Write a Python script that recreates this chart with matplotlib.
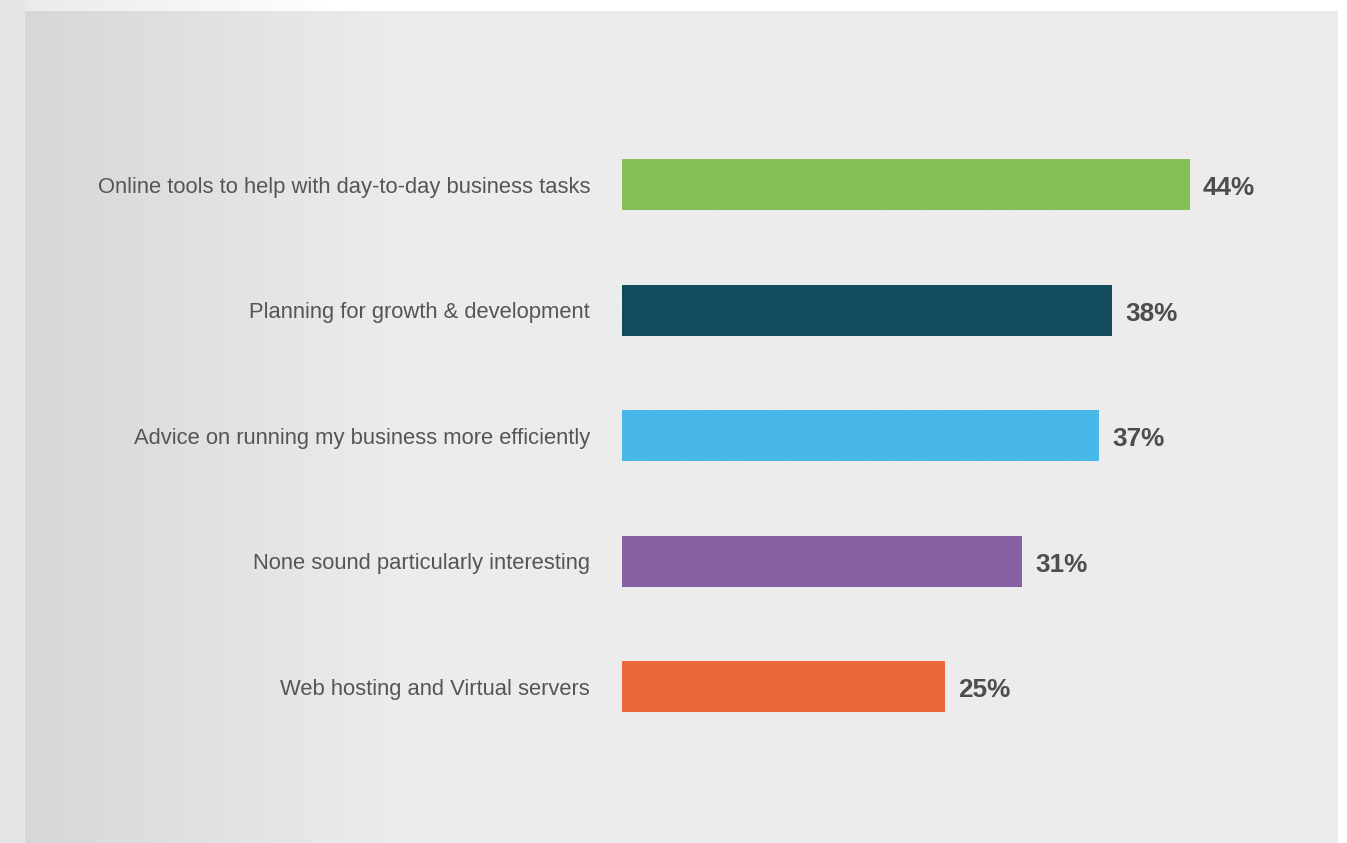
import matplotlib
matplotlib.use("Agg")
import matplotlib.pyplot as plt
import numpy as np
from matplotlib.colors import LinearSegmentedColormap

plt.rcParams['font.family'] = ['Liberation Sans', 'DejaVu Sans']

categories = [
    "Online tools to help with day-to-day business tasks",
    "Planning for growth & development",
    "Advice on running my business more efficiently",
    "None sound particularly interesting",
    "Web hosting and Virtual servers",
]
values = [44, 38, 37, 31, 25]
colors = ["#85bf58", "#124b5c", "#47b8e8", "#875fa3", "#eb6838"]

W, H = 1347, 843
fig = plt.figure(figsize=(W / 100, H / 100), dpi=100, facecolor="white")

# background: grey panel with a soft shade towards the left edge
bg = fig.add_axes([0, 0, 1, 1])
bg.axis("off")
bg.add_patch(plt.Rectangle((0, 0), 25, H, color="#e6e6e6", lw=0))
top = LinearSegmentedColormap.from_list("top", ["#e9e9e9", "#ffffff"])
bg.imshow(np.linspace(0, 1, 256)[None, :], cmap=top, extent=[0, 330, 11, 0],
          aspect="auto", interpolation="bilinear")
shade = LinearSegmentedColormap.from_list("shade", ["#d7d7d7", "#ececec"])
grad = np.concatenate([np.linspace(0, 1, 160), np.ones(400)])[None, :]
bg.imshow(grad, cmap=shade, vmin=0, vmax=1, extent=[25, 1338, H, 11],
          aspect="auto", interpolation="bilinear")
bg.set_xlim(0, W)
bg.set_ylim(H, 0)

# bar chart
left, right = 622, 1267
top_px, bot_px = 121.7, 749.8
ax = fig.add_axes([left / W, 1 - bot_px / H, (right - left) / W, (bot_px - top_px) / H])
ax.patch.set_alpha(0)
y = np.arange(len(categories))
ax.barh(y, values, height=0.406, color=colors)
ax.set_xlim(0, 50)
ax.set_ylim(len(categories) - 0.5, -0.5)
ax.set_yticks(y)
ax.set_yticklabels(categories, fontsize=15.8, color="#555555")
ax.tick_params(axis="y", length=0, pad=23)
ax.set_xticks([])
for s in ax.spines.values():
    s.set_visible(False)

for yi, v in zip(y, values):
    ax.annotate("%d%%" % v, (v, yi), xytext=(9.5, -2.5), textcoords="offset points",
                va="center", ha="left", fontsize=18.8, fontweight="bold", color="#4d4d4d")

fig.savefig("out.png", dpi=100, facecolor="white")
